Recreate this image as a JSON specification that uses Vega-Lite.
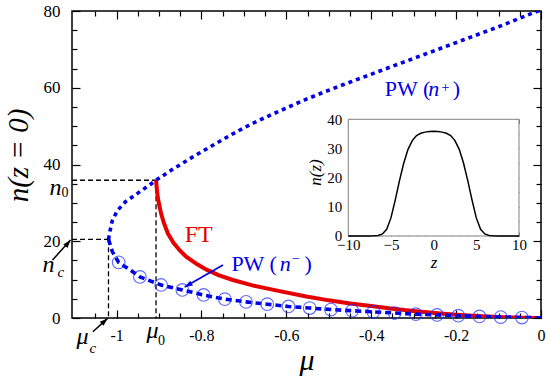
{
  "$schema": "https://vega.github.io/schema/vega-lite/v6.json",
  "width": 469,
  "height": 307,
  "autosize": {"type": "none"},
  "padding": {"left": 72, "top": 11, "right": 9, "bottom": 62},
  "config": {
    "view": {"stroke": "black", "strokeWidth": 1.5},
    "font": "Liberation Serif",
    "style": {"guide-label": {"font": "Liberation Serif"}, "guide-title": {"font": "Liberation Serif"}},
    "axis": {"domain": false, "grid": false, "labelFont": "Liberation Serif", "titleFont": "Liberation Serif", "labelColor": "black", "titleColor": "black", "tickColor": "black", "tickWidth": 1.2, "titleFontWeight": "normal", "labelFlush": false, "labelOverlap": false}
  },
  "resolve": {"scale": {"x": "independent", "y": "independent"}},
  "layer": [
    {
      "encoding": {
        "x": {"field": "mu", "type": "quantitative", "scale": {"domain": [-1.105, 0], "nice": false, "zero": false}, "axis": null},
        "y": {"field": "n", "type": "quantitative", "scale": {"domain": [0, 80], "nice": false, "zero": false}, "axis": null}
      },
      "layer": [
        {
          "data": {"values": [
            {"mu": -1.105, "n": 20.5, "mu2": -1.019, "n2": 20.5},
            {"mu": -1.019, "n": 20.5, "mu2": -1.019, "n2": 0},
            {"mu": -1.105, "n": 35.9, "mu2": -0.907, "n2": 35.9},
            {"mu": -0.907, "n": 35.9, "mu2": -0.907, "n2": 0}
          ]},
          "mark": {"type": "rule", "color": "black", "strokeWidth": 1.3, "strokeDash": [5, 3]},
          "encoding": {"x2": {"field": "mu2"}, "y2": {"field": "n2"}}
        },
        {
          "data": {"values": [
            {"mu": -0.907, "n": 35.9}, {"mu": -0.905, "n": 33.5}, {"mu": -0.903, "n": 31.5}, {"mu": -0.9, "n": 29.7},
            {"mu": -0.895, "n": 27.2}, {"mu": -0.889, "n": 24.9}, {"mu": -0.879, "n": 22.0}, {"mu": -0.866, "n": 19.6},
            {"mu": -0.851, "n": 17.6}, {"mu": -0.836, "n": 16.0}, {"mu": -0.81, "n": 14.0}, {"mu": -0.788, "n": 12.6},
            {"mu": -0.76, "n": 11.2}, {"mu": -0.726, "n": 9.9}, {"mu": -0.68, "n": 8.5}, {"mu": -0.616, "n": 7.0},
            {"mu": -0.553, "n": 5.6}, {"mu": -0.5, "n": 4.6}, {"mu": -0.45, "n": 3.8}, {"mu": -0.4, "n": 3.1},
            {"mu": -0.35, "n": 2.4}, {"mu": -0.3, "n": 1.8}, {"mu": -0.25, "n": 1.3}, {"mu": -0.2, "n": 0.85},
            {"mu": -0.15, "n": 0.5}, {"mu": -0.1, "n": 0.25}, {"mu": -0.05, "n": 0.08}, {"mu": 0, "n": 0}
          ]},
          "mark": {"type": "line", "color": "#e60000", "strokeWidth": 4, "clip": true},
          "encoding": {
            "x": {"field": "mu", "type": "quantitative", "scale": {"domain": [-1.105, 0], "nice": false, "zero": false},
              "axis": {"orient": "top", "values": [-1.05, -0.95, -0.9, -0.85, -0.75, -0.7, -0.65, -0.55, -0.5, -0.45, -0.35, -0.3, -0.25, -0.15, -0.1, -0.05], "tickSize": -5, "labels": false, "title": null}},
            "y": {"field": "n", "type": "quantitative", "scale": {"domain": [0, 80], "nice": false, "zero": false},
              "axis": {"orient": "right", "values": [5, 10, 15, 25, 30, 35, 45, 50, 55, 65, 70, 75], "tickSize": -5, "labels": false, "title": null}}
          }
        },
        {
          "data": {"values": [
            {"mu": -1.019, "n": 20.5}, {"mu": -1.015, "n": 22.9}, {"mu": -1.01, "n": 25.4}, {"mu": -0.998, "n": 28.0},
            {"mu": -0.979, "n": 30.3}, {"mu": -0.957, "n": 32.0}, {"mu": -0.94, "n": 33.3}, {"mu": -0.923, "n": 34.6},
            {"mu": -0.907, "n": 35.9}, {"mu": -0.87, "n": 38.6}, {"mu": -0.82, "n": 42.0}, {"mu": -0.77, "n": 45.2},
            {"mu": -0.726, "n": 48.0}, {"mu": -0.68, "n": 50.7}, {"mu": -0.631, "n": 53.2}, {"mu": -0.58, "n": 55.7},
            {"mu": -0.549, "n": 57.2}, {"mu": -0.49, "n": 59.8}, {"mu": -0.42, "n": 62.7}, {"mu": -0.333, "n": 66.3},
            {"mu": -0.25, "n": 69.7}, {"mu": -0.175, "n": 72.8}, {"mu": -0.1, "n": 75.9}, {"mu": -0.026, "n": 79.2},
            {"mu": 0, "n": 80.3}
          ]},
          "mark": {"type": "line", "color": "#0000e6", "strokeWidth": 3.6, "strokeDash": [4, 4], "clip": true},
          "encoding": {
            "x": {"field": "mu", "type": "quantitative", "scale": {"domain": [-1.105, 0], "nice": false, "zero": false},
              "axis": {"orient": "bottom", "values": [-1, -0.8, -0.6, -0.4, -0.2, 0], "tickSize": -8, "labelExpr": "toString(datum.value)", "labelFont": "Liberation Serif", "labelFontSize": 16, "labelPadding": 17,
                "title": "μ", "titleFont": "Liberation Serif", "titleFontStyle": "italic", "titleFontSize": 30, "titlePadding": 2}},
            "y": {"field": "n", "type": "quantitative", "scale": {"domain": [0, 80], "nice": false, "zero": false},
              "axis": {"orient": "left", "values": [0, 20, 40, 60, 80], "tickSize": -8, "labelFont": "Liberation Serif", "labelFontSize": 17, "labelPadding": 20,
                "title": "n(z = 0)", "titleFont": "Liberation Serif", "titleFontStyle": "italic", "titleFontSize": 29, "titleX": -39, "titleY": 144, "titleAlign": "center", "titleBaseline": "bottom", "titleAngle": 270}}
          }
        },
        {
          "data": {"values": [
            {"mu": -1.019, "n": 20.5}, {"mu": -1.01, "n": 17.3}, {"mu": -0.995, "n": 14.5}, {"mu": -0.965, "n": 12.3},
            {"mu": -0.945, "n": 10.7}, {"mu": -0.895, "n": 8.6}, {"mu": -0.845, "n": 7.3}, {"mu": -0.795, "n": 6.0},
            {"mu": -0.745, "n": 4.9}, {"mu": -0.695, "n": 4.2}, {"mu": -0.645, "n": 3.6}, {"mu": -0.595, "n": 3.0},
            {"mu": -0.545, "n": 2.6}, {"mu": -0.495, "n": 2.2}, {"mu": -0.445, "n": 1.9}, {"mu": -0.395, "n": 1.6},
            {"mu": -0.345, "n": 1.3}, {"mu": -0.295, "n": 1.0}, {"mu": -0.245, "n": 0.8}, {"mu": -0.195, "n": 0.6},
            {"mu": -0.145, "n": 0.4}, {"mu": -0.095, "n": 0.25}, {"mu": -0.045, "n": 0.12}, {"mu": 0, "n": 0.05}
          ]},
          "mark": {"type": "line", "color": "#0000e6", "strokeWidth": 3.6, "strokeDash": [6, 4], "clip": true},
          "encoding": {
            "x": {"field": "mu", "type": "quantitative", "scale": {"domain": [-1.105, 0], "nice": false, "zero": false},
              "axis": {"orient": "top", "values": [-1, -0.8, -0.6, -0.4, -0.2, 0], "tickSize": -8, "labels": false, "title": null}},
            "y": {"field": "n", "type": "quantitative", "scale": {"domain": [0, 80], "nice": false, "zero": false},
              "axis": {"orient": "right", "values": [0, 20, 40, 60, 80], "tickSize": -8, "labels": false, "title": null}}
          }
        },
        {
          "data": {"values": [
            {"mu": -0.995, "n": 14.5}, {"mu": -0.945, "n": 10.7}, {"mu": -0.895, "n": 8.6}, {"mu": -0.845, "n": 7.3},
            {"mu": -0.795, "n": 6.0}, {"mu": -0.745, "n": 4.9}, {"mu": -0.695, "n": 4.2}, {"mu": -0.645, "n": 3.6},
            {"mu": -0.595, "n": 3.0}, {"mu": -0.545, "n": 2.6}, {"mu": -0.495, "n": 2.2}, {"mu": -0.445, "n": 1.9},
            {"mu": -0.395, "n": 1.6}, {"mu": -0.345, "n": 1.3}, {"mu": -0.295, "n": 1.0}, {"mu": -0.245, "n": 0.8},
            {"mu": -0.195, "n": 0.6}, {"mu": -0.145, "n": 0.4}, {"mu": -0.095, "n": 0.25}, {"mu": -0.045, "n": 0.12}
          ]},
          "mark": {"type": "point", "shape": "circle", "filled": false, "color": "#1a2cff", "strokeWidth": 1.1, "size": 160},
          "encoding": {
            "x": {"field": "mu", "type": "quantitative", "scale": {"domain": [-1.105, 0], "nice": false, "zero": false},
              "axis": {"orient": "bottom", "values": [-1.05, -0.95, -0.9, -0.85, -0.75, -0.7, -0.65, -0.55, -0.5, -0.45, -0.35, -0.3, -0.25, -0.15, -0.1, -0.05], "tickSize": -5, "labels": false, "title": null}},
            "y": {"field": "n", "type": "quantitative", "scale": {"domain": [0, 80], "nice": false, "zero": false},
              "axis": {"orient": "left", "values": [5, 10, 15, 25, 30, 35, 45, 50, 55, 65, 70, 75], "tickSize": -5, "labels": false, "title": null}}
          }
        },
        {
          "data": {"values": [
            {"mu": -1.1509, "n": 15.1, "mu2": -1.1085, "n2": 20.31},
            {"mu": -1.0558, "n": -3.57, "mu2": -1.0212, "n2": -0.1}
          ]},
          "mark": {"type": "rule", "color": "black", "strokeWidth": 1.5},
          "encoding": {"x2": {"field": "mu2"}, "y2": {"field": "n2"}}
        },
        {
          "data": {"values": [{"mu": -0.7493, "n": 13.8, "mu2": -0.8396, "n2": 8.07}]},
          "mark": {"type": "rule", "color": "#0000e6", "strokeWidth": 1.6},
          "encoding": {"x2": {"field": "mu2"}, "y2": {"field": "n2"}}
        },
        {
          "data": {"values": [{"mu": -1.1085, "n": 20.31}]},
          "mark": {"type": "point", "shape": "M0,0L0.45,1.3L-0.45,1.3Z", "filled": true, "color": "black", "opacity": 1, "size": 150, "angle": 40}
        },
        {
          "data": {"values": [{"mu": -1.0212, "n": -0.1}]},
          "mark": {"type": "point", "shape": "M0,0L0.45,1.3L-0.45,1.3Z", "filled": true, "color": "black", "opacity": 1, "size": 150, "angle": 48}
        },
        {
          "data": {"values": [{"mu": -0.8396, "n": 8.07}]},
          "mark": {"type": "point", "shape": "M0,0L0.45,1.3L-0.45,1.3Z", "filled": true, "color": "#0000e6", "opacity": 1, "size": 150, "angle": 240}
        },
        {
          "data": {"values": [
            {"mu": -1.158, "n": 32.03, "t": "n"},
            {"mu": -1.1745, "n": 11.98, "t": "n"},
            {"mu": -1.0943, "n": -6.9, "t": "μ"},
            {"mu": -0.9292, "n": -5.21, "t": "μ"}
          ]},
          "mark": {"type": "text", "font": "Liberation Serif", "fontStyle": "italic", "fontSize": 24, "color": "black", "align": "left", "baseline": "alphabetic"},
          "encoding": {"text": {"field": "t"}}
        },
        {
          "data": {"values": [
            {"mu": -1.1297, "n": 31.5, "t": "0"},
            {"mu": -0.9026, "n": -7.03, "t": "0"}
          ]},
          "mark": {"type": "text", "font": "Liberation Serif", "fontSize": 14, "color": "black", "align": "left", "baseline": "alphabetic"},
          "encoding": {"text": {"field": "t"}}
        },
        {
          "data": {"values": [
            {"mu": -1.1392, "n": 10.68, "t": "c"},
            {"mu": -1.0637, "n": -9.11, "t": "c"}
          ]},
          "mark": {"type": "text", "font": "Liberation Serif", "fontStyle": "italic", "fontSize": 15, "color": "black", "align": "left", "baseline": "alphabetic"},
          "encoding": {"text": {"field": "t"}}
        },
        {
          "data": {"values": [{"mu": -0.8396, "n": 19.87, "t": "FT"}]},
          "mark": {"type": "text", "font": "Liberation Serif", "fontSize": 24, "color": "#e60000", "align": "left", "baseline": "alphabetic"},
          "encoding": {"text": {"field": "t"}}
        },
        {
          "data": {"values": [
            {"mu": -0.7295, "n": 12.24, "t": "PW ("},
            {"mu": -0.5575, "n": 12.24, "t": ")"},
            {"mu": -0.3679, "n": 57.81, "t": "PW ("},
            {"mu": -0.208, "n": 57.81, "t": ")"}
          ]},
          "mark": {"type": "text", "font": "Liberation Serif", "fontSize": 22, "color": "#0000e6", "align": "left", "baseline": "alphabetic"},
          "encoding": {"text": {"field": "t"}}
        },
        {
          "data": {"values": [
            {"mu": -0.6156, "n": 12.24, "t": "n"},
            {"mu": -0.2658, "n": 57.81, "t": "n"}
          ]},
          "mark": {"type": "text", "font": "Liberation Serif", "fontStyle": "italic", "fontSize": 22, "color": "#0000e6", "align": "left", "baseline": "alphabetic"},
          "encoding": {"text": {"field": "t"}}
        },
        {
          "data": {"values": [
            {"mu": -0.5865, "n": 14.3, "t": "−"},
            {"mu": -0.2345, "n": 59.0, "t": "+"}
          ]},
          "mark": {"type": "text", "font": "Liberation Serif", "fontSize": 14, "color": "#0000e6", "align": "left", "baseline": "alphabetic"},
          "encoding": {"text": {"field": "t"}}
        }
      ]
    },
    {
      "encoding": {
        "x": {"field": "z", "type": "quantitative", "scale": {"domain": [-42.37, 12.58], "nice": false, "zero": false}, "axis": null},
        "y": {"field": "v", "type": "quantitative", "scale": {"domain": [-28.11, 77.12], "nice": false, "zero": false}, "axis": null}
      },
      "layer": [
        {
          "data": {"values": [{"z": -10, "z2": 10, "v": 0, "v2": 40}]},
          "mark": {"type": "rect", "fill": "white", "stroke": "#808080", "strokeWidth": 1},
          "encoding": {
            "x": {"field": "z", "type": "quantitative", "scale": {"domain": [-42.37, 12.58], "nice": false, "zero": false},
              "axis": {"orient": "bottom", "offset": -82, "values": [-10, -5, 0, 5, 10], "tickSize": -4, "tickColor": "#808080", "tickWidth": 1, "labelFont": "Liberation Serif", "labelFontSize": 15, "labelPadding": 5,
                "title": "z", "titleFont": "Liberation Serif", "titleFontStyle": "italic", "titleFontSize": 17, "titleX": 361.6, "titleY": 31, "titleAlign": "center", "titleBaseline": "alphabetic"}},
            "y": {"field": "v", "type": "quantitative", "scale": {"domain": [-28.11, 77.12], "nice": false, "zero": false},
              "axis": {"orient": "left", "offset": -276.3, "values": [0, 10, 20, 30, 40], "tickSize": -4, "tickColor": "#808080", "tickWidth": 1, "labelFont": "Liberation Serif", "labelFontSize": 15, "labelPadding": 10.5,
                "title": "n(z)", "titleFont": "Liberation Serif", "titleFontStyle": "italic", "titleFontSize": 17, "titleX": -24, "titleY": 161, "titleAlign": "center", "titleBaseline": "bottom", "titleAngle": 270}},
            "x2": {"field": "z2"},
            "y2": {"field": "v2"}
          }
        },
        {
          "data": {"values": [
            {"z": -10, "v": 0}, {"z": -7.5, "v": 0}, {"z": -7, "v": 0.05}, {"z": -6.5, "v": 0.2}, {"z": -6, "v": 0.7},
            {"z": -5.5, "v": 2.3}, {"z": -5, "v": 6.2}, {"z": -4.5, "v": 12.3}, {"z": -4, "v": 19.0}, {"z": -3.5, "v": 25.0},
            {"z": -3, "v": 29.7}, {"z": -2.5, "v": 32.7}, {"z": -2, "v": 34.4}, {"z": -1.5, "v": 35.2}, {"z": -1, "v": 35.6},
            {"z": -0.5, "v": 35.8}, {"z": 0, "v": 35.9}, {"z": 0.5, "v": 35.8}, {"z": 1, "v": 35.6}, {"z": 1.5, "v": 35.2},
            {"z": 2, "v": 34.4}, {"z": 2.5, "v": 32.7}, {"z": 3, "v": 29.7}, {"z": 3.5, "v": 25.0}, {"z": 4, "v": 19.0},
            {"z": 4.5, "v": 12.3}, {"z": 5, "v": 6.2}, {"z": 5.5, "v": 2.3}, {"z": 6, "v": 0.7}, {"z": 6.5, "v": 0.2},
            {"z": 7, "v": 0.05}, {"z": 7.5, "v": 0}, {"z": 10, "v": 0}
          ]},
          "mark": {"type": "line", "color": "black", "strokeWidth": 1.5},
          "encoding": {
            "x": {"field": "z", "type": "quantitative", "scale": {"domain": [-42.37, 12.58], "nice": false, "zero": false},
              "axis": {"orient": "top", "offset": -108.3, "values": [-10, -5, 0, 5, 10], "tickSize": -4, "tickColor": "#808080", "tickWidth": 1, "labels": false, "title": null}},
            "y": {"field": "v", "type": "quantitative", "scale": {"domain": [-28.11, 77.12], "nice": false, "zero": false},
              "axis": {"orient": "right", "offset": -22, "values": [0, 10, 20, 30, 40], "tickSize": -4, "tickColor": "#808080", "tickWidth": 1, "labels": false, "title": null}}
          }
        },
        {
          "data": {"values": [{"z": -10, "z2": 10, "v": 0, "v2": 40}]},
          "mark": {"type": "rect", "opacity": 0},
          "encoding": {
            "x": {"field": "z", "type": "quantitative", "scale": {"domain": [-42.37, 12.58], "nice": false, "zero": false},
              "axis": {"orient": "bottom", "offset": -82, "values": [-9, -8, -7, -6, -4, -3, -2, -1, 1, 2, 3, 4, 6, 7, 8, 9], "tickSize": -2.5, "tickColor": "#808080", "tickWidth": 1, "labels": false, "title": null}},
            "y": {"field": "v", "type": "quantitative", "scale": {"domain": [-28.11, 77.12], "nice": false, "zero": false},
              "axis": {"orient": "left", "offset": -276.3, "values": [5, 15, 25, 35], "tickSize": -2.5, "tickColor": "#808080", "tickWidth": 1, "labels": false, "title": null}},
            "x2": {"field": "z2"},
            "y2": {"field": "v2"}
          }
        },
        {
          "data": {"values": [{"z": -10, "z2": 10, "v": 0, "v2": 40}]},
          "mark": {"type": "rect", "opacity": 0},
          "encoding": {
            "x": {"field": "z", "type": "quantitative", "scale": {"domain": [-42.37, 12.58], "nice": false, "zero": false},
              "axis": {"orient": "top", "offset": -108.3, "values": [-9, -8, -7, -6, -4, -3, -2, -1, 1, 2, 3, 4, 6, 7, 8, 9], "tickSize": -2.5, "tickColor": "#808080", "tickWidth": 1, "labels": false, "title": null}},
            "y": {"field": "v", "type": "quantitative", "scale": {"domain": [-28.11, 77.12], "nice": false, "zero": false},
              "axis": {"orient": "right", "offset": -22, "values": [5, 15, 25, 35], "tickSize": -2.5, "tickColor": "#808080", "tickWidth": 1, "labels": false, "title": null}},
            "x2": {"field": "z2"},
            "y2": {"field": "v2"}
          }
        }
      ]
    }
  ]
}
